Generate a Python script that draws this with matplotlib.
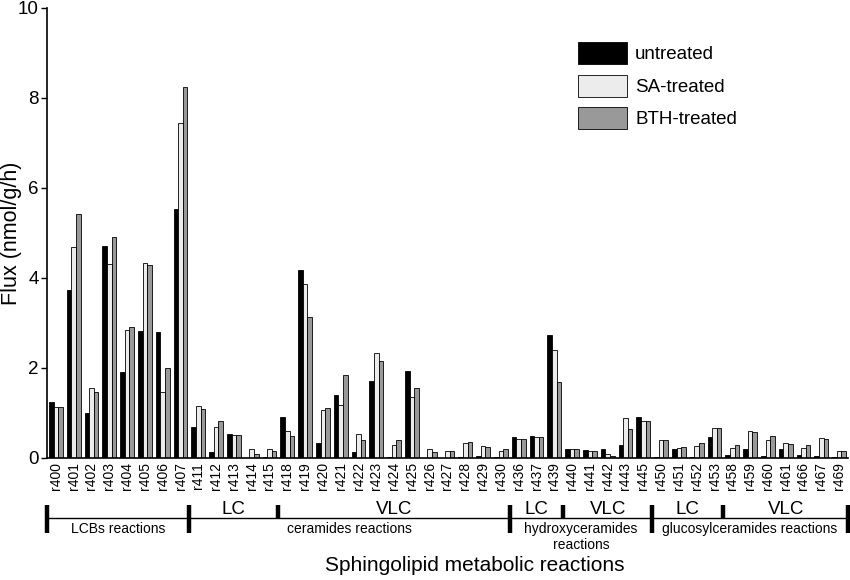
import matplotlib
matplotlib.use('Agg')
import matplotlib.pyplot as plt
import numpy as np

reactions = ['r400', 'r401', 'r402', 'r403', 'r404', 'r405', 'r406', 'r407',
             'r411', 'r412', 'r413', 'r414', 'r415',
             'r418', 'r419', 'r420', 'r421', 'r422', 'r423', 'r424', 'r425',
             'r426', 'r427', 'r428', 'r429', 'r430',
             'r436', 'r437', 'r439',
             'r440', 'r441', 'r442', 'r443', 'r445',
             'r450', 'r451', 'r452', 'r453',
             'r458', 'r459', 'r460', 'r461', 'r466', 'r467', 'r469']

untreated = [1.25, 3.73, 1.01, 4.72, 1.92, 2.83, 2.79, 5.54,
             0.70, 0.13, 0.54, 0.00, 0.03,
             0.92, 4.17, 0.34, 1.40, 0.13, 1.71, 0.02, 1.94,
             0.01, 0.01, 0.03, 0.04, 0.02,
             0.47, 0.50, 2.73,
             0.21, 0.17, 0.19, 0.28, 0.92,
             0.02, 0.19, 0.03, 0.47,
             0.07, 0.21, 0.04, 0.19, 0.07, 0.05, 0.02]

sa_treated = [1.13, 4.70, 1.56, 4.31, 2.84, 4.33, 1.46, 7.45,
              1.15, 0.70, 0.51, 0.19, 0.21,
              0.60, 3.86, 1.06, 1.17, 0.53, 2.34, 0.28, 1.35,
              0.21, 0.16, 0.34, 0.26, 0.16,
              0.42, 0.46, 2.40,
              0.19, 0.16, 0.09, 0.90, 0.83,
              0.41, 0.23, 0.26, 0.67,
              0.23, 0.59, 0.39, 0.33, 0.23, 0.44, 0.16]

bth_treated = [1.13, 5.42, 1.46, 4.92, 2.92, 4.28, 1.99, 8.24,
               1.08, 0.83, 0.51, 0.10, 0.15,
               0.48, 3.13, 1.11, 1.85, 0.41, 2.16, 0.41, 1.55,
               0.13, 0.16, 0.36, 0.24, 0.19,
               0.42, 0.46, 1.68,
               0.19, 0.16, 0.04, 0.64, 0.83,
               0.39, 0.25, 0.33, 0.67,
               0.30, 0.58, 0.50, 0.31, 0.30, 0.42, 0.16]

series_names = ['untreated', 'SA-treated', 'BTH-treated']

section_names = ['LCBs reactions', 'ceramides reactions',
                 'hydroxyceramides\nreactions', 'glucosylceramides reactions']
section_sizes = [8, 18, 8, 11]

sub_names = ['LC', 'VLC', 'LC', 'VLC', 'LC', 'VLC']
sub_sizes = [5, 13, 3, 5, 4, 7]
sub_start = 8  # first reaction index covered by sub-sections

yticks = [0, 2, 4, 6, 8, 10]

# ---------------------------------------------------------------
plt.rcParams['font.family'] = ['Liberation Sans', 'DejaVu Sans']

W, H = 850, 580
fig = plt.figure(figsize=(W / 100, H / 100), dpi=100)
ax = fig.add_axes([47 / W, 1 - 458 / H, (848 - 47) / W, (458 - 8) / H])

n = len(reactions)
x = np.arange(n)
bw = 0.26
colors = ['#000000', '#ececec', '#999999']
for k, (vals, col, name) in enumerate(zip([untreated, sa_treated, bth_treated],
                                          colors, series_names)):
    ax.bar(x + (k - 1) * bw, vals, width=bw, color=col, edgecolor='black',
           linewidth=0.6, label=name)

ax.set_xlim(-0.5, n - 0.5)
ax.set_ylim(0, 10)
ax.set_yticks(yticks)
ax.set_yticklabels([str(t) for t in yticks], fontsize=13.5)
ax.set_xticks(x)
ax.set_xticklabels(reactions, rotation=90, fontsize=10)
ax.tick_params(axis='x', length=0, pad=3)
ax.tick_params(axis='y', direction='out', length=4, width=1, pad=2)
for s in ['top', 'right']:
    ax.spines[s].set_visible(False)
for s in ['left', 'bottom']:
    ax.spines[s].set_linewidth(1.2)

ax.set_ylabel('Flux (nmol/g/h)', fontsize=15.5)
ax.yaxis.set_label_coords(-0.031, 0.5)

# legend
leg = ax.legend(loc='upper left', bbox_to_anchor=(578 / W, 1 - 42 / H),
                bbox_transform=fig.transFigure, frameon=False, fontsize=13.5,
                handlelength=2.6, handleheight=1.45, handletextpad=0.45,
                labelspacing=0.55, borderpad=0, borderaxespad=0)

# annotation below the axis
tr = ax.get_xaxis_transform()
def fy(py):
    return (458 - py) / 450.0

y_line = fy(518)
ax.plot([-0.5, n - 0.5], [y_line, y_line], color='black', lw=1.0,
        transform=tr, clip_on=False)

# main section boundaries
bounds = np.concatenate([[0], np.cumsum(section_sizes)]) - 0.5
for b in bounds:
    ax.plot([b, b], [fy(505), fy(533)], color='black', lw=3.2,
            transform=tr, clip_on=False, solid_capstyle='butt')
for i, name in enumerate(section_names):
    cx = (bounds[i] + bounds[i + 1]) / 2
    ax.text(cx, fy(522), name, transform=tr, ha='center', va='top',
            fontsize=10, linespacing=1.15)

# sub-section boundaries and labels
sb = sub_start - 0.5 + np.concatenate([[0], np.cumsum(sub_sizes)])
for b in sb:
    if not np.any(np.isclose(b, bounds)):
        ax.plot([b, b], [fy(505), fy(518)], color='black', lw=3.2,
                transform=tr, clip_on=False, solid_capstyle='butt')
for i, name in enumerate(sub_names):
    cx = (sb[i] + sb[i + 1]) / 2
    ax.text(cx, fy(514), name, transform=tr, ha='center', va='baseline',
            fontsize=13.5)

fig.text(475 / W, 1 - 571 / H, 'Sphingolipid metabolic reactions',
         ha='center', va='baseline', fontsize=15)

fig.savefig('out.png', dpi=100)
